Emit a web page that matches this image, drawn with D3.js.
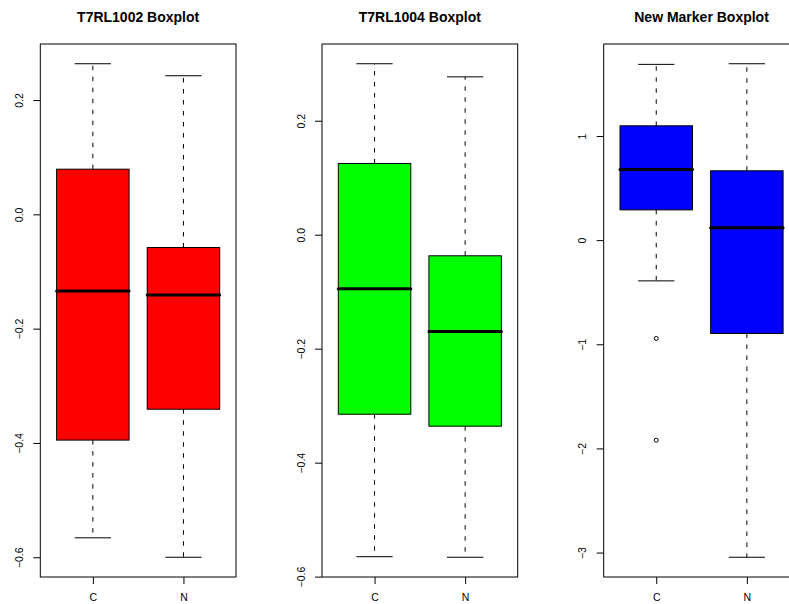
<!DOCTYPE html>
<html>
<head>
<meta charset="utf-8">
<script src="https://cdn.jsdelivr.net/npm/d3@7"></script>
<style>
  body { margin: 0; background: #fff; overflow: hidden; }
  svg { display: block; font-family: "Liberation Sans", Arial, Helvetica, sans-serif; }
</style>
</head>
<body>
<svg id="chart" width="789" height="604"></svg>
<script>
// groups on the x axis
const groups = ["C", "N"];

// five-number summaries [lower whisker, Q1, median, Q3, upper whisker]
const t1002C = [-0.566, -0.395, -0.134, 0.079, 0.2635];
const t1002N = [-0.600, -0.341, -0.141, -0.058, 0.2425];
const t1004C = [-0.565, -0.315, -0.095, 0.125, 0.300];
const t1004N = [-0.566, -0.336, -0.170, -0.037, 0.277];
const markerC = [-0.391, 0.291, 0.679, 1.098, 1.688];
const markerN = [-3.045, -0.896, 0.118, 0.666, 1.694];

// outliers
const t1002Out = [[], []];
const t1004Out = [[], []];
const markerOut = [[-0.944, -1.921], []];

// y tick labels
const t1002Ticks = [-0.6, -0.4, -0.2, 0.0, 0.2];
const t1004Ticks = [-0.6, -0.4, -0.2, 0.0, 0.2];
const markerTicks = [-3, -2, -1, 0, 1];

const titles = ["T7RL1002 Boxplot", "T7RL1004 Boxplot", "New Marker Boxplot"];
const colors = ["#ff0000", "#00ff00", "#0000ff"];

const panels = [
  { title: titles[0], fill: colors[0], stats: [t1002C, t1002N], out: t1002Out, ticks: t1002Ticks, fmt: d3.format(".1f") },
  { title: titles[1], fill: colors[1], stats: [t1004C, t1004N], out: t1004Out, ticks: t1004Ticks, fmt: d3.format(".1f") },
  { title: titles[2], fill: colors[2], stats: [markerC, markerN], out: markerOut, ticks: markerTicks, fmt: d3.format("d") },
];

const panelW = 281.7;
const margin = { top: 44, right: 45.7, bottom: 27, left: 40.3 };
const totalH = 604;
const width = panelW - margin.left - margin.right;
const height = totalH - margin.top - margin.bottom;

const svg = d3.select("#chart");
const minus = s => s.replace("-", "\u2212");

panels.forEach((p, i) => {
  const g = svg.append("g")
    .attr("transform", `translate(${i * panelW + margin.left},${margin.top})`);

  // R style: extend the data range by 4% each side
  const all = p.stats.flat().concat(p.out.flat());
  const lo = d3.min(all), hi = d3.max(all);
  const pad = (hi - lo) * 0.04;

  const y = d3.scaleLinear().domain([lo - pad, hi + pad]).range([height, 0]);
  const x = d3.scaleLinear().domain([0.42, 2.58]).range([0, width]);
  const boxW = x(0.8) - x(0);

  // title
  svg.append("text")
    .attr("x", i * panelW + margin.left + width / 2)
    .attr("y", 21.5)
    .attr("text-anchor", "middle")
    .style("font-size", "14px")
    .style("font-weight", "bold")
    .text(p.title);

  // y axis
  const yAxis = g.append("g")
    .call(d3.axisLeft(y).tickValues(p.ticks).tickSize(7).tickPadding(0).tickFormat(d => minus(p.fmt(d))));
  yAxis.select(".domain").remove();
  yAxis.selectAll("line").attr("stroke", "#000");
  yAxis.selectAll("text")
    .attr("x", 0)
    .attr("dy", 0)
    .attr("text-anchor", "middle")
    .attr("transform", "translate(-17.5,0) rotate(-90)")
    .style("font-size", "10.5px")
    .style("font-family", "Liberation Sans, Arial, sans-serif")
    .attr("fill", "#000");

  // x axis
  const xAxis = g.append("g")
    .attr("transform", `translate(0,${height})`)
    .call(d3.axisBottom(x).tickValues([1, 2]).tickSize(7).tickPadding(0).tickFormat((d, k) => groups[k]));
  xAxis.select(".domain").remove();
  xAxis.selectAll("line").attr("stroke", "#000");
  xAxis.selectAll("text")
    .attr("y", 24)
    .attr("dy", 0)
    .style("font-size", "10.5px")
    .style("font-family", "Liberation Sans, Arial, sans-serif")
    .attr("fill", "#000");

  const boxes = g.selectAll(".box")
    .data(p.stats)
    .enter()
    .append("g")
    .attr("class", "box");

  // whiskers (dashed)
  boxes.append("line")
    .attr("x1", (d, k) => x(k + 1)).attr("x2", (d, k) => x(k + 1))
    .attr("y1", d => y(d[3])).attr("y2", d => y(d[4]))
    .attr("stroke", "#000").attr("stroke-dasharray", "4.5,6.5");
  boxes.append("line")
    .attr("x1", (d, k) => x(k + 1)).attr("x2", (d, k) => x(k + 1))
    .attr("y1", d => y(d[1])).attr("y2", d => y(d[0]))
    .attr("stroke", "#000").attr("stroke-dasharray", "4.5,6.5");

  // staples
  [0, 4].forEach(j => {
    boxes.append("line")
      .attr("x1", (d, k) => x(k + 1) - boxW / 4).attr("x2", (d, k) => x(k + 1) + boxW / 4)
      .attr("y1", d => y(d[j])).attr("y2", d => y(d[j]))
      .attr("stroke", "#000");
  });

  // boxes
  boxes.append("rect")
    .attr("x", (d, k) => x(k + 1) - boxW / 2)
    .attr("y", d => y(d[3]))
    .attr("width", boxW)
    .attr("height", d => y(d[1]) - y(d[3]))
    .attr("fill", p.fill)
    .attr("stroke", "#000")
    .attr("stroke-width", 1);

  // medians
  boxes.append("line")
    .attr("x1", (d, k) => x(k + 1) - boxW / 2).attr("x2", (d, k) => x(k + 1) + boxW / 2)
    .attr("y1", d => y(d[2])).attr("y2", d => y(d[2]))
    .attr("stroke", "#000").attr("stroke-width", 3).attr("stroke-linecap", "round");

  // outliers
  p.out.forEach((pts, k) => {
    g.selectAll(null)
      .data(pts)
      .enter()
      .append("circle")
      .attr("cx", x(k + 1))
      .attr("cy", d => y(d))
      .attr("r", 2)
      .attr("fill", "none")
      .attr("stroke", "#000");
  });

  // frame
  g.append("rect")
    .attr("width", width)
    .attr("height", height)
    .attr("fill", "none")
    .attr("stroke", "#000")
    .attr("stroke-width", 1);
});
</script>
</body>
</html>
